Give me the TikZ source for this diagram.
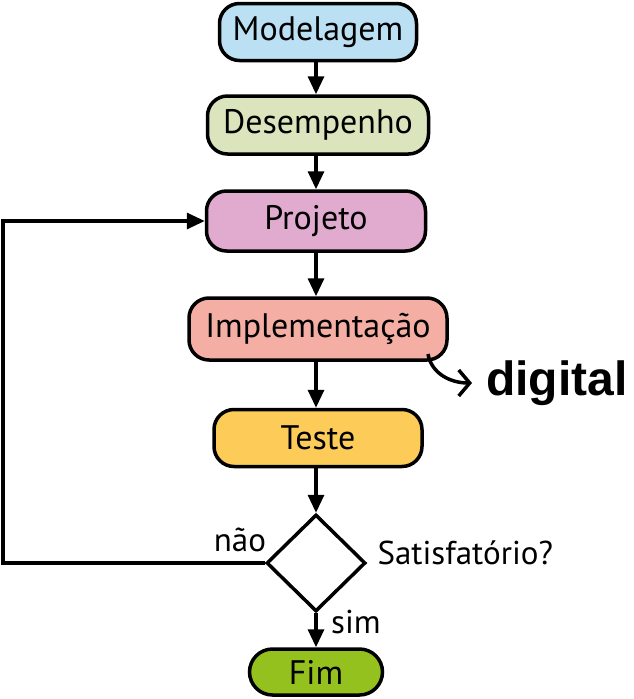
\documentclass[tikz,border=0pt]{standalone}
\usepackage{fontspec}
\setmainfont{PT Sans}
\newfontfamily\digitalfont{Liberation Sans}
\usetikzlibrary{shapes.geometric,arrows.meta}
\definecolor{FlowBlue}{HTML}{BBE0F3}
\definecolor{FlowGreen}{HTML}{DAE5BD}
\definecolor{FlowPink}{HTML}{E0ABCF}
\definecolor{FlowSalmon}{HTML}{F5AEA3}
\definecolor{FlowYellow}{HTML}{FDCC58}
\definecolor{FlowLime}{HTML}{95C11F}

\begin{document}
\begin{tikzpicture}[x=1pt,y=-1pt,
  box/.style={draw,line width=3.5pt,rounded corners=20pt,minimum height=57pt,inner sep=0pt,font=\fontsize{34}{40}\selectfont},
  flow/.style={line width=3.3pt,-{Triangle[length=18pt,width=16pt]}},
  tag/.style={font=\fontsize{33}{38}\selectfont}]
  \useasboundingbox (0,0) rectangle (634,699);
  \node[box,fill=FlowBlue,minimum width=197pt] (mod) at (318,32) {Modelagem};
  \node[box,fill=FlowGreen,minimum width=221pt,minimum height=58pt] (des) at (318,125) {Desempenho};
  \node[box,fill=FlowPink,minimum width=219pt,minimum height=60pt] (proj) at (316,221) {Projeto};
  \node[box,fill=FlowSalmon,minimum width=258pt,minimum height=62pt] (imp) at (318,329) {Implementação};
  \node[box,fill=FlowYellow,minimum width=208pt] (tes) at (318,438) {Teste};
  \node[draw,diamond,line width=3.5pt,fill=white,minimum width=99pt,minimum height=97pt,inner sep=0pt] (sat) at (316,563) {};
  \node[box,fill=FlowLime,rounded corners=23pt,minimum width=133pt,minimum height=46pt] (fim) at (316,672) {Fim};
  \coordinate (loopB) at (3,563);\coordinate (loopT) at (3,221);\coordinate (digStart) at (428,354);
  \draw[flow] (mod.south-|316,0) -- (des.north-|316,0);
  \draw[flow] (des.south-|316,0) -- (proj.north-|316,0);
  \draw[flow] (proj.south-|316,0) -- (imp.north-|316,0);
  \draw[flow] (imp.south-|316,0) -- (tes.north-|316,0);
  \draw[flow] (tes.south-|316,0) -- (sat.north);
  \draw[flow] (sat.south) -- (fim.north);
  \draw[flow] (sat.west) -- (loopB) -- (loopT) -- (proj.west);
  \node[tag] (nao) at (240,540) {não};
  \node[tag] (sim) at (356,622) {sim};
  \node[tag,anchor=west] (satlbl) at (374,553) {Satisfatório?};
  \node[font=\digitalfont\bfseries\fontsize{48}{54}\selectfont,anchor=west,inner sep=0pt] (dig) at (486,383) {digital};
  \draw[line width=3.5pt,-{Straight Barb[length=11pt,width=26pt]}] (digStart) to[out=-80,in=180] ([xshift=-14pt]dig.west);
\end{tikzpicture}
\end{document}
